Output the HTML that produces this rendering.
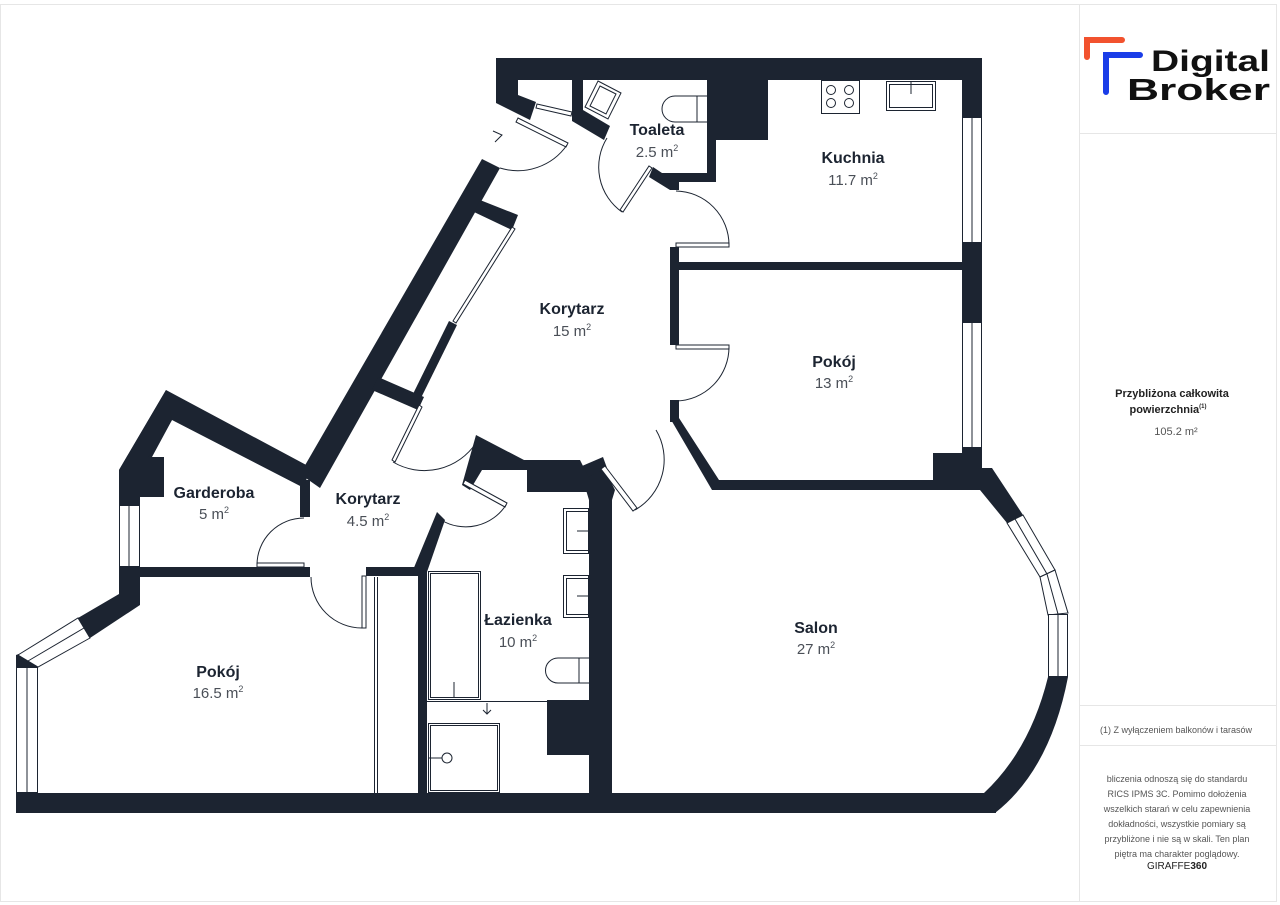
<!DOCTYPE html>
<html><head><meta charset="utf-8"><style>
html,body{margin:0;padding:0;background:#fff;}
body{width:1280px;height:905px;position:relative;overflow:hidden;font-family:"Liberation Sans",sans-serif;}
svg{position:absolute;left:0;top:0;}
.lbl{font-family:"Liberation Sans",sans-serif;font-weight:bold;font-size:16px;fill:#1c2431;text-anchor:middle;}
.ar{font-family:"Liberation Sans",sans-serif;font-size:15px;fill:#4a4f57;text-anchor:middle;}
.sup{font-size:9px;}
</style></head><body>
<svg width="1280" height="905" viewBox="0 0 1280 905">
<rect x="0.5" y="4.5" width="1276" height="897" fill="none" stroke="#e6e6e6"/>
<line x1="1079.5" y1="4" x2="1079.5" y2="902" stroke="#e6e6e6"/>
<line x1="1080" y1="133.5" x2="1276" y2="133.5" stroke="#e6e6e6"/>
<line x1="1080" y1="705.5" x2="1276" y2="705.5" stroke="#e6e6e6"/>
<line x1="1080" y1="745.5" x2="1276" y2="745.5" stroke="#e6e6e6"/>

<g fill="#1c2431" stroke="none">
<rect x="496" y="58" width="486" height="22"/>
<polygon points="496,58 518,58 518,95 536,102 530,120 496,103"/>
<polygon points="572,80 583,80 583,110 610,126 604,140 572,121"/>
<rect x="707" y="80" width="61" height="60"/>
<rect x="707" y="140" width="9" height="42"/>
<rect x="662" y="173" width="54" height="9"/>
<polygon points="653,167 662,173 670,173 679,182 679,190 670,190 649,177"/>
<rect x="962" y="80" width="20" height="37"/>
<rect x="962" y="243" width="20" height="79"/>
<rect x="962" y="448" width="20" height="22"/>
<rect x="670" y="262" width="292" height="8"/>
<rect x="670" y="247" width="9" height="98"/>
<rect x="670" y="400" width="9" height="22"/>
<polygon points="670,418 679,418 719,480 712,490"/>
<rect x="712" y="480" width="250" height="10"/>
<rect x="933" y="453" width="49" height="37"/>
<polygon points="962,468 992,468 1023,515 1007,523 980,490 962,490"/>
<path d="M1048,677 L1068,677 Q1050,770 995,813 L984,793 Q1030,750 1048,677Z"/>
<rect x="16" y="793" width="980" height="20"/>
<rect x="589" y="490" width="23" height="305"/>
<polygon points="580,470 600,460 615,490 612,500 589,500"/>
<polygon points="582,466 603,457 607,468 586,478"/>
<polygon points="476,435 524,460 580,460 590,480 590,492 527,492 527,470 482,470 470,490 462,485"/>
<rect x="418" y="570" width="9" height="225"/>
<polygon points="437,512 445,520 427,572 413,570"/>
<rect x="366" y="567" width="52" height="9"/>
<rect x="119" y="567" width="191" height="10"/>
<polygon points="482,159 500,168 320,488 300,474"/>
<polygon points="480,200 518,215 512,230 474,212"/>
<polygon points="378,377 424,397 418,410 372,390"/>
<polygon points="449,321 457,325 419,402 411,398"/>
<rect x="300" y="480" width="10" height="37"/>
<polygon points="166,390 310,467 304,488 172,420 152,457 119,472 119,470"/>
<polygon points="166,390 172,420 140,470 140,505 119,505 119,470"/>
<rect x="140" y="457" width="24" height="40"/>
<polygon points="119,567 140,567 140,605 90,638 78,618 119,594"/>
<polygon points="16,655 30,650 38,667 16,667"/>
<rect x="547" y="700" width="42" height="55"/>
</g>

<g fill="#fff" stroke="#1c2431" stroke-width="1">
<rect x="962.5" y="117.5" width="19" height="125"/><line x1="972" y1="117" x2="972" y2="243"/>
<rect x="962.5" y="322.5" width="19" height="125"/><line x1="972" y1="322" x2="972" y2="448"/>
<rect x="119.5" y="505.5" width="20" height="61"/><line x1="129" y1="505" x2="129" y2="567"/>
<rect x="16.5" y="667.5" width="21" height="125"/><line x1="27" y1="667" x2="27" y2="793"/>
<polygon points="18,655 78,618 90,638 38,667"/><line x1="28" y1="661" x2="84" y2="628"/>
<polygon points="1007,523 1023,515 1055,570 1040,577"/><line x1="1015" y1="519" x2="1047" y2="574"/>
<polygon points="1040,577 1055,570 1068,613 1048,615"/><line x1="1047" y1="574" x2="1058" y2="614"/>
<rect x="1048.5" y="614.5" width="19" height="62"/><line x1="1058" y1="614" x2="1058" y2="677"/>
</g>

<g fill="none" stroke="#1c2431" stroke-width="1">
<line x1="374.5" y1="577" x2="374.5" y2="793"/><line x1="377.5" y1="577" x2="377.5" y2="793"/>
<polygon points="518,118 568,143 566,147 516,122" fill="#fff"/>
<polygon points="537,104 572,112 571,116 536,108" fill="#fff"/>
<polygon points="652,168 623,212 620,210 649,166" fill="#fff"/>
<rect x="676" y="243" width="53" height="4" fill="#fff"/>
<rect x="676" y="345" width="53" height="4" fill="#fff"/>
<polygon points="605,466 637,508 633,511 601,469" fill="#fff"/>
<polygon points="422,407 395,462 392,460 419,405" fill="#fff"/>
<polygon points="465,480 507,503 505,507 463,484" fill="#fff"/>
<rect x="257" y="563" width="47" height="4" fill="#fff"/>
<rect x="362" y="576" width="4" height="52" fill="#fff"/>
<polygon points="515,229 456,323 453,321 512,227" fill="#fff"/>
<path d="M567,145 A60,60 0 0 1 500,168"/>
<path d="M622,212 A55,55 0 0 1 607,138"/>
<path d="M729,245 A54,54 0 0 0 676,191"/>
<path d="M729,347 A54,54 0 0 1 676,401"/>
<path d="M635,510 A58,58 0 0 0 656,430"/>
<path d="M393,462 A62,62 0 0 0 476,443"/>
<path d="M506,505 A48,48 0 0 1 441,520"/>
<path d="M257,565 A47,47 0 0 1 304,518"/>
<path d="M311,577 A51,51 0 0 0 362,628"/>
<path d="M493,131 L502,135 L495,142"/>
<rect x="821.5" y="80.5" width="38" height="33"/>
<circle cx="831" cy="90" r="4.5"/><circle cx="849" cy="90" r="4.5"/>
<circle cx="831" cy="103" r="4.5"/><circle cx="849" cy="103" r="4.5"/>
<rect x="886.5" y="81.5" width="49" height="29"/><rect x="889.5" y="84.5" width="43" height="23"/>
<line x1="911" y1="81" x2="911" y2="94"/>
<polygon points="598,81 621,93 608,119 585,107"/>
<polygon points="600,86 616,94 606,114 590,106"/>
<path d="M707,96 L675,96 A13,13 0 0 0 675,122 L707,122"/><line x1="697" y1="96" x2="697" y2="122"/>
<rect x="563.5" y="508.5" width="25" height="45"/><rect x="566.5" y="511.5" width="22" height="39"/><line x1="577" y1="531" x2="589" y2="531"/>
<rect x="563.5" y="575.5" width="25" height="42"/><rect x="566.5" y="578.5" width="22" height="36"/><line x1="577" y1="596" x2="589" y2="596"/>
<rect x="428.5" y="571.5" width="52" height="128"/><rect x="430.5" y="573.5" width="48" height="124"/><line x1="454" y1="682" x2="454" y2="698"/>
<path d="M589,658 L558,658 A12.5,12.5 0 0 0 558,683 L589,683"/><line x1="579" y1="658" x2="579" y2="683"/>
<line x1="427" y1="701.5" x2="547" y2="701.5"/>
<path d="M487,703 L487,714 M483,710 L487,714 L491,710"/>
<rect x="428.5" y="723.5" width="71" height="69"/><rect x="430.5" y="725.5" width="67" height="65"/>
<circle cx="447" cy="758" r="5"/><line x1="428" y1="758" x2="442" y2="758"/>
</g>

<text class="lbl" x="657" y="135">Toaleta</text><text class="ar" x="657" y="157">2.5 m<tspan class="sup" dy="-6">2</tspan></text>
<text class="lbl" x="853" y="163">Kuchnia</text><text class="ar" x="853" y="185">11.7 m<tspan class="sup" dy="-6">2</tspan></text>
<text class="lbl" x="572" y="314">Korytarz</text><text class="ar" x="572" y="336">15 m<tspan class="sup" dy="-6">2</tspan></text>
<text class="lbl" x="834" y="367">Pokój</text><text class="ar" x="834" y="388">13 m<tspan class="sup" dy="-6">2</tspan></text>
<text class="lbl" x="214" y="498">Garderoba</text><text class="ar" x="214" y="519">5 m<tspan class="sup" dy="-6">2</tspan></text>
<text class="lbl" x="368" y="504">Korytarz</text><text class="ar" x="368" y="526">4.5 m<tspan class="sup" dy="-6">2</tspan></text>
<text class="lbl" x="518" y="625">Łazienka</text><text class="ar" x="518" y="647">10 m<tspan class="sup" dy="-6">2</tspan></text>
<text class="lbl" x="816" y="633">Salon</text><text class="ar" x="816" y="654">27 m<tspan class="sup" dy="-6">2</tspan></text>
<text class="lbl" x="218" y="677">Pokój</text><text class="ar" x="218" y="698">16.5 m<tspan class="sup" dy="-6">2</tspan></text>

<path d="M1087,57 L1087,40 L1122,40" fill="none" stroke="#f2522e" stroke-width="6" stroke-linecap="round"/>
<path d="M1106,92 L1106,55 L1140,55" fill="none" stroke="#1a3de8" stroke-width="6" stroke-linecap="round"/>
<text x="1151" y="71" font-family="Liberation Sans,sans-serif" font-size="30" font-weight="bold" fill="#111" textLength="119" lengthAdjust="spacingAndGlyphs">Digital</text>
<text x="1127" y="100" font-family="Liberation Sans,sans-serif" font-size="31" font-weight="bold" fill="#111" textLength="143" lengthAdjust="spacingAndGlyphs">Broker</text>

<text x="1172" y="397" font-size="11" font-weight="bold" fill="#222" text-anchor="middle" font-family="Liberation Sans,sans-serif">Przybliżona całkowita</text>
<text x="1168" y="413" font-size="11" font-weight="bold" fill="#222" text-anchor="middle" font-family="Liberation Sans,sans-serif">powierzchnia<tspan font-size="6" dy="-5">(1)</tspan></text>
<text x="1176" y="435" font-size="11" fill="#555" text-anchor="middle" font-family="Liberation Sans,sans-serif">105.2 m²</text>
<text x="1176" y="733" font-size="9" fill="#555" text-anchor="middle" font-family="Liberation Sans,sans-serif">(1) Z wyłączeniem balkonów i tarasów</text>
<g font-size="9" fill="#555" text-anchor="middle" font-family="Liberation Sans,sans-serif">
<text x="1177" y="782">bliczenia odnoszą się do standardu</text>
<text x="1177" y="797">RICS IPMS 3C. Pomimo dołożenia</text>
<text x="1177" y="812">wszelkich starań w celu zapewnienia</text>
<text x="1177" y="827">dokładności, wszystkie pomiary są</text>
<text x="1177" y="842">przybliżone i nie są w skali. Ten plan</text>
<text x="1177" y="857">piętra ma charakter poglądowy.</text>
<text x="1177" y="869" font-size="10" fill="#222">GIRAFFE<tspan font-weight="bold">360</tspan></text>
</g>
</svg>
</body></html>
